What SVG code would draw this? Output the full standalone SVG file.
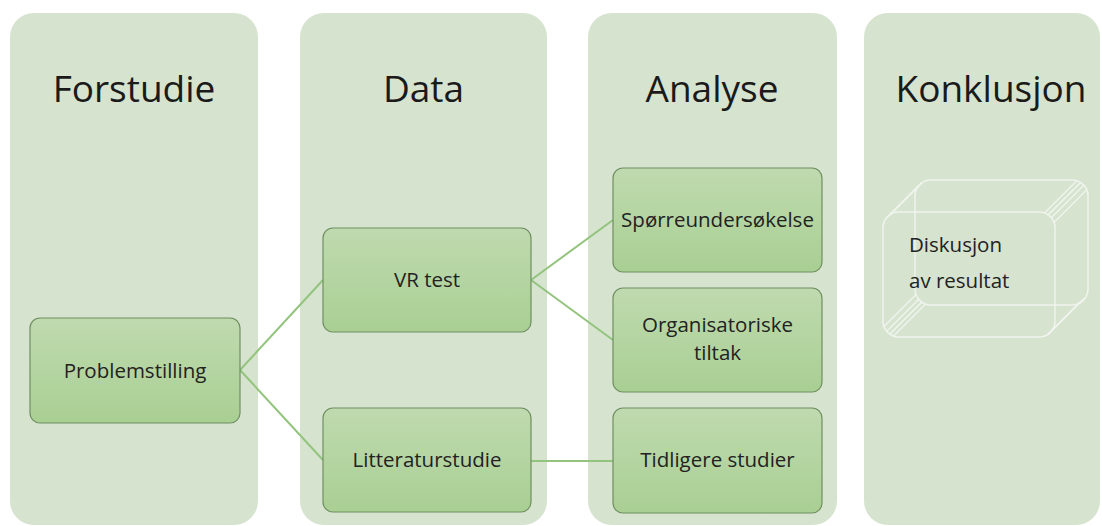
<svg xmlns="http://www.w3.org/2000/svg" width="1102" height="526" viewBox="0 0 1102 526">
  <defs>
    <linearGradient id="nodeGrad" x1="0" y1="0" x2="0" y2="1">
      <stop offset="0" stop-color="#bfdaaf"/>
      <stop offset="1" stop-color="#a9cf93"/>
    </linearGradient>
    <style>
      .col { fill: #d6e3cf; }
      .head { font-family: "Open Sans", "Noto Sans", sans-serif; font-size: 37px; fill: #1a1a1a; text-anchor: middle; }
      .node rect { fill: url(#nodeGrad); stroke: #6f8f60; stroke-width: 1.2; }
      .lbl { font-family: "Open Sans", "Noto Sans", sans-serif; font-size: 20.5px; fill: #222; text-anchor: middle; }
      .conn { stroke: #93c47d; stroke-width: 2; fill: none; }
      .box { fill: none; stroke: #f2f5ef; stroke-width: 1.6; opacity: 0.9; }
    </style>
  </defs>

  <rect width="1102" height="526" fill="#ffffff"/>

  <g id="col-forstudie">
    <rect class="col" x="10" y="13" width="248" height="512" rx="24"/>
    <text class="head" x="134" y="102">Forstudie</text>
  </g>
  <g id="col-data">
    <rect class="col" x="300" y="13" width="247" height="512" rx="24"/>
    <text class="head" x="423.5" y="102">Data</text>
  </g>
  <g id="col-analyse">
    <rect class="col" x="588" y="13" width="249" height="512" rx="24"/>
    <text class="head" x="712" y="102">Analyse</text>
  </g>
  <g id="col-konklusjon">
    <rect class="col" x="864" y="13" width="236" height="512" rx="24"/>
    <text class="head" x="991" y="102">Konklusjon</text>
  </g>

  <g id="connectors">
    <line class="conn" x1="240" y1="370" x2="323" y2="280"/>
    <line class="conn" x1="240" y1="370" x2="323" y2="460"/>
    <line class="conn" x1="531" y1="280" x2="613" y2="220"/>
    <line class="conn" x1="531" y1="280" x2="613" y2="340"/>
    <line class="conn" x1="531" y1="461" x2="613" y2="461"/>
  </g>

  <g id="node-problemstilling" class="node">
    <rect x="30" y="318" width="210" height="105" rx="10"/>
    <text class="lbl" x="135" y="378">Problemstilling</text>
  </g>
  <g id="node-vrtest" class="node">
    <rect x="323" y="228" width="208" height="104" rx="10"/>
    <text class="lbl" x="427" y="287">VR test</text>
  </g>
  <g id="node-litteraturstudie" class="node">
    <rect x="323" y="408" width="208" height="104" rx="10"/>
    <text class="lbl" x="427" y="467">Litteraturstudie</text>
  </g>
  <g id="node-sporreundersokelse" class="node">
    <rect x="613" y="168" width="209" height="104" rx="10"/>
    <text class="lbl" x="717.5" y="227">Spørreundersøkelse</text>
  </g>
  <g id="node-organisatoriske" class="node">
    <rect x="613" y="288" width="209" height="104" rx="10"/>
    <text class="lbl" x="717.5" y="332">Organisatoriske</text>
    <text class="lbl" x="717.5" y="360">tiltak</text>
  </g>
  <g id="node-tidligere" class="node">
    <rect x="613" y="408" width="209" height="105" rx="10"/>
    <text class="lbl" x="717.5" y="467">Tidligere studier</text>
  </g>

  <g id="node-diskusjon">
    <rect class="box" x="915" y="180" width="173" height="125" rx="16"/>
    <rect class="box" x="883" y="212" width="172" height="125" rx="16"/>
    <!-- top-left bevel -->
    <line class="box" x1="886.7" y1="217.7" x2="918.7" y2="185.7"/>
    <line class="box" x1="889.8" y1="214.9" x2="921.8" y2="182.9"/>
    <!-- top-right bevel (hatched) -->
    <line class="box" x1="1054" y1="222.5" x2="1086" y2="190.5"/>
    <line class="box" x1="1051.3" y1="217.7" x2="1083.3" y2="185.7"/>
    <line class="box" x1="1048.2" y1="214.9" x2="1080.2" y2="182.9"/>
    <line class="box" x1="1044.5" y1="213" x2="1076.5" y2="181"/>
    <!-- bottom-left bevel (hatched) -->
    <line class="box" x1="884" y1="326.5" x2="916" y2="294.5"/>
    <line class="box" x1="886.7" y1="331.3" x2="918.7" y2="299.3"/>
    <line class="box" x1="889.8" y1="334.1" x2="921.8" y2="302.1"/>
    <line class="box" x1="893.5" y1="336" x2="925.5" y2="304"/>
    <!-- bottom-right bevel -->
    <line class="box" x1="1052.1" y1="330.2" x2="1084.1" y2="298.2"/>
    <line class="box" x1="1048.2" y1="334.1" x2="1080.2" y2="302.1"/>
    <text class="lbl" x="909" y="252" style="text-anchor:start">Diskusjon</text>
    <text class="lbl" x="909" y="288" style="text-anchor:start">av resultat</text>
  </g>
</svg>
